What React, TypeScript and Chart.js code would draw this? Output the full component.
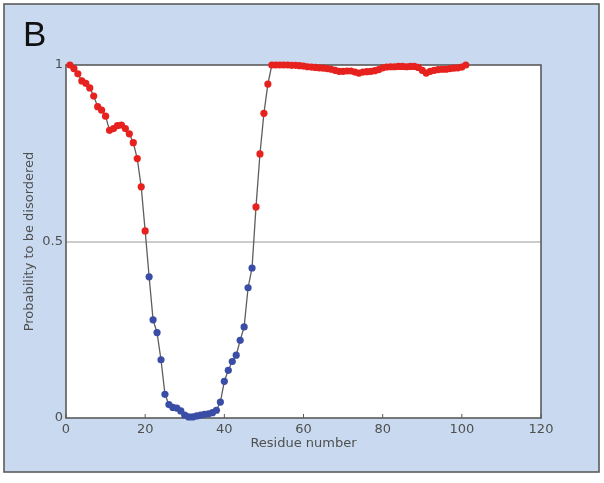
import React, { useEffect, useRef } from "react";
import { Chart, registerables } from "chart.js";

Chart.register(...registerables);

// Disorder probability for residues 1..101
const disorderProbability: number[] = [
  1.0, 0.99, 0.975, 0.955, 0.948, 0.935, 0.912, 0.882, 0.872, 0.855,
  0.815, 0.82, 0.828, 0.83, 0.82, 0.805, 0.78, 0.735, 0.655, 0.53,
  0.4, 0.278, 0.242, 0.165, 0.067, 0.038, 0.03, 0.028, 0.02, 0.008,
  0.003, 0.003, 0.006, 0.008, 0.01, 0.012, 0.015, 0.022, 0.045, 0.104,
  0.135, 0.16, 0.178, 0.22, 0.258, 0.369, 0.425, 0.598, 0.748, 0.863,
  0.946, 1.0, 1.0, 1.0, 1.0, 1.0, 0.999, 0.999, 0.998, 0.997,
  0.995, 0.994, 0.993, 0.992, 0.991, 0.99, 0.988, 0.985, 0.982, 0.982,
  0.983, 0.983, 0.98, 0.977, 0.98, 0.981, 0.982, 0.984, 0.987, 0.992,
  0.994, 0.995, 0.995, 0.996, 0.996, 0.995, 0.996, 0.996, 0.993, 0.985,
  0.977, 0.982, 0.985, 0.987, 0.988, 0.988, 0.99, 0.991, 0.992, 0.994,
  1.0,
];
const residueNumbers: number[] = disorderProbability.map((_, i) => i + 1);

const xTicks = [0, 20, 40, 60, 80, 100, 120];
const yTicks = [0, 0.5, 1];
const threshold = 0.5;
const xTitle = "Residue number";
const yTitle = "Probability to be disordered";
const panelLabel = "B";

const RED = "#e6211e";
const BLUE = "#3a4da6";
const TEXT = "#4f4f4f";
const FONT = "'DejaVu Sans', sans-serif";

export default function App() {
  const ref = useRef<HTMLCanvasElement>(null);

  useEffect(() => {
    document.body.style.margin = "0";
    const canvas = ref.current;
    if (!canvas) return;

    const panelPlugin = {
      id: "panel",
      beforeDraw(chart: any) {
        const { ctx, chartArea } = chart;
        ctx.save();
        ctx.fillStyle = "#ffffff";
        ctx.fillRect(0, 0, chart.width, chart.height);
        ctx.fillStyle = "#c9daf0";
        ctx.fillRect(4, 4, 595, 468);
        ctx.strokeStyle = "#5c5c5c";
        ctx.lineWidth = 1.6;
        ctx.strokeRect(4, 4, 595, 468);
        ctx.fillStyle = "#ffffff";
        ctx.fillRect(chartArea.left, chartArea.top, chartArea.right - chartArea.left, chartArea.bottom - chartArea.top);
        ctx.fillStyle = "#111111";
        ctx.font = "35px 'Liberation Sans', sans-serif";
        ctx.textBaseline = "alphabetic";
        ctx.textAlign = "left";
        ctx.fillText(panelLabel, 23, 46);
        ctx.restore();
      },
      beforeDatasetsDraw(chart: any) {
        const { ctx, chartArea, scales } = chart;
        ctx.save();
        ctx.strokeStyle = "#5a5a5a";
        ctx.lineWidth = 1.6;
        ctx.strokeRect(chartArea.left, chartArea.top, chartArea.right - chartArea.left, chartArea.bottom - chartArea.top);
        ctx.lineWidth = 1;
        ctx.beginPath();
        xTicks.forEach((v) => {
          const px = scales.x.getPixelForValue(v);
          ctx.moveTo(px, chartArea.bottom);
          ctx.lineTo(px, chartArea.bottom - 4);
        });
        ctx.stroke();
        ctx.restore();
      },
    };

    const chart = new Chart(canvas, {
      type: "line",
      data: {
        datasets: [
          {
            data: residueNumbers.map((r, i) => ({ x: r, y: disorderProbability[i] })),
            borderColor: "#5e5e5e",
            borderWidth: 1.3,
            pointRadius: 3.6,
            pointBorderWidth: 0,
            pointBackgroundColor: disorderProbability.map((v) => (v > threshold ? RED : BLUE)),
            pointBorderColor: disorderProbability.map((v) => (v > threshold ? RED : BLUE)),
            tension: 0,
            clip: false as any,
          },
        ],
      },
      options: {
        responsive: false,
        animation: false,
        devicePixelRatio: 1,
        layout: { padding: { left: 0, right: 63, top: 65, bottom: 0 } },
        plugins: { legend: { display: false }, tooltip: { enabled: false } },
        scales: {
          x: {
            type: "linear",
            min: 0,
            max: 120,
            afterBuildTicks: (s: any) => {
              s.ticks = xTicks.map((v) => ({ value: v }));
            },
            afterFit: (s: any) => {
              s.height = 65;
            },
            grid: { display: false, drawTicks: false },
            border: { display: false },
            ticks: { padding: 4, color: TEXT, font: { family: FONT, size: 13 }, maxRotation: 0, autoSkip: false },
            title: {
              display: true,
              text: xTitle,
              color: TEXT,
              font: { family: FONT, size: 13 },
              padding: { top: 0, bottom: 32 },
            },
          },
          y: {
            type: "linear",
            min: 0,
            max: 1,
            afterBuildTicks: (s: any) => {
              s.ticks = yTicks.map((v) => ({ value: v }));
            },
            afterFit: (s: any) => {
              s.width = 66;
            },
            grid: {
              drawTicks: false,
              lineWidth: 2,
              color: (c: any) => (c.tick && c.tick.value === threshold ? "#cccccc" : "rgba(0,0,0,0)"),
            },
            border: { display: false },
            ticks: {
              padding: 3,
              color: TEXT,
              font: { family: FONT, size: 13 },
              callback: (v: any) => String(v),
            },
            title: {
              display: true,
              text: yTitle,
              color: TEXT,
              font: { family: FONT, size: 13 },
              padding: { top: 22, bottom: 0 },
            },
          },
        },
      },
      plugins: [panelPlugin],
    });

    return () => chart.destroy();
  }, []);

  return (
    <div style={{ position: "fixed", left: 0, top: 0, width: 604, height: 483 }}>
      <canvas ref={ref} width={604} height={483} style={{ display: "block", width: 604, height: 483 }} />
    </div>
  );
}
